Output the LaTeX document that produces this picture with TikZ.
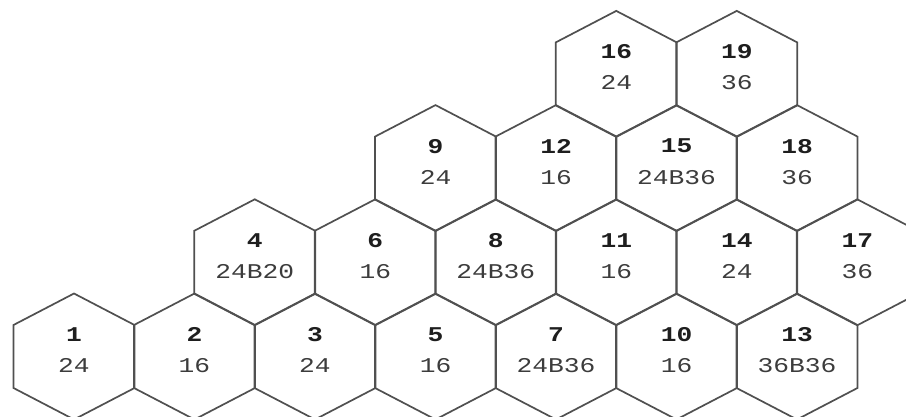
\documentclass[tikz,border=0pt]{standalone}
\usepackage{fontspec}
\usepackage{graphicx}
\setmonofont{Liberation Mono}
\definecolor{hexgray}{RGB}{80,80,80}
\definecolor{valgray}{RGB}{60,60,60}
\definecolor{numgray}{RGB}{30,30,30}
\tikzset{
  hexline/.style={draw=hexgray, line width=1.7pt, line join=miter},
  numtext/.style={font=\ttfamily\bfseries\fontsize{21}{21}\selectfont, text=numgray, inner sep=0pt},
  valtext/.style={font=\ttfamily\fontsize{21}{21}\selectfont, text=valgray, inner sep=0pt},
}
\newcommand\hexcell[4]{%
  \coordinate (#1) at #2;
  \draw[hexline, shift={#2}] (0,63) -- (60.5,31.5) -- (60.5,-31.5) -- (0,-63)
     -- (-60.5,-31.5) -- (-60.5,31.5) -- cycle;
  \node[numtext] (#1n) at ([yshift=22pt]#1) {\scalebox{1.25}[1]{#3}};
  \node[valtext] (#1v) at ([yshift=-9pt]#1) {\scalebox{1.25}[1]{#4}};
}
\begin{document}
\begin{tikzpicture}[x=1pt,y=1pt]
  \useasboundingbox (0,0) rectangle (906,416);
  \fill[white] (0,0) rectangle (906,416);
  \clip (0,0) rectangle (906,416);
  % row 0
  \hexcell{h1}{(74,59.5)}{1}{24}
  \hexcell{h2}{(194.5,59.5)}{2}{16}
  \hexcell{h3}{(315,59.5)}{3}{24}
  \hexcell{h5}{(435.5,59.5)}{5}{16}
  \hexcell{h7}{(556,59.5)}{7}{24B36}
  \hexcell{h10}{(676.5,59.5)}{10}{16}
  \hexcell{h13}{(797,59.5)}{13}{36B36}
  % row 1
  \hexcell{h4}{(254.75,153.7)}{4}{24B20}
  \hexcell{h6}{(375.25,153.7)}{6}{16}
  \hexcell{h8}{(495.75,153.7)}{8}{24B36}
  \hexcell{h11}{(616.25,153.7)}{11}{16}
  \hexcell{h14}{(736.75,153.7)}{14}{24}
  \hexcell{h17}{(857.25,153.7)}{17}{36}
  % row 2
  \hexcell{h9}{(435.5,247.9)}{9}{24}
  \hexcell{h12}{(556,247.9)}{12}{16}
  \hexcell{h15}{(676.5,247.9)}{15}{24B36}
  \hexcell{h18}{(797,247.9)}{18}{36}
  % row 3
  \hexcell{h16}{(616.25,342.1)}{16}{24}
  \hexcell{h19}{(736.75,342.1)}{19}{36}
\end{tikzpicture}
\end{document}
